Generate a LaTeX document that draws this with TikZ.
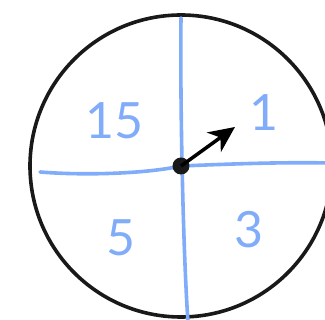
\documentclass[tikz,border=0pt]{standalone}
\usepackage{fontspec}
\setmainfont{Lato}
\usepackage{xcolor}
\usepackage{tikz}
\usetikzlibrary{positioning, arrows.meta, calc}

\definecolor{penblue}{RGB}{128,172,250}

\begin{document}
\begin{tikzpicture}[x=1pt, y=-1pt,
        rim/.style={draw=black!90, line width=3.6pt},
        split/.style={draw=penblue, line width=3.6pt, line cap=round},
        num/.style={text=penblue, font=\fontsize{50}{50}\selectfont, inner sep=0pt}]

        \useasboundingbox (0,0) rectangle (325,320);
        \clip (0,0) rectangle (325,320);

        \coordinate (c) at (181,166);
        \draw[rim] (c) circle (151);

        % the four sectors
        \coordinate (top) at (181,18);
        \coordinate (bot) at (188,322);
        \coordinate (left) at (40,172);
        \coordinate (right) at (330,163);
        \draw[split] (top) .. controls (180,100) and (183,250) .. (bot);
        \draw[split] (left) .. controls (90,176) and (150,173) .. (c) .. controls (230,164) and (280,162) .. (right);

        \node[num] (n15) at (114,121) {15};
        \node[num] (n1) at (264,113) {1};
        \node[num] (n5) at (121,238) {5};
        \node[num] (n3) at (249,230) {3};

        % pointer
        \fill[black!90] (c) circle (8.5);
        \coordinate (tip) at (235,127);
        \draw[-{Stealth[length=26pt, width=24pt, inset=8pt]}, line width=3.5pt] (c) -- (tip);
      \end{tikzpicture}
\end{document}
